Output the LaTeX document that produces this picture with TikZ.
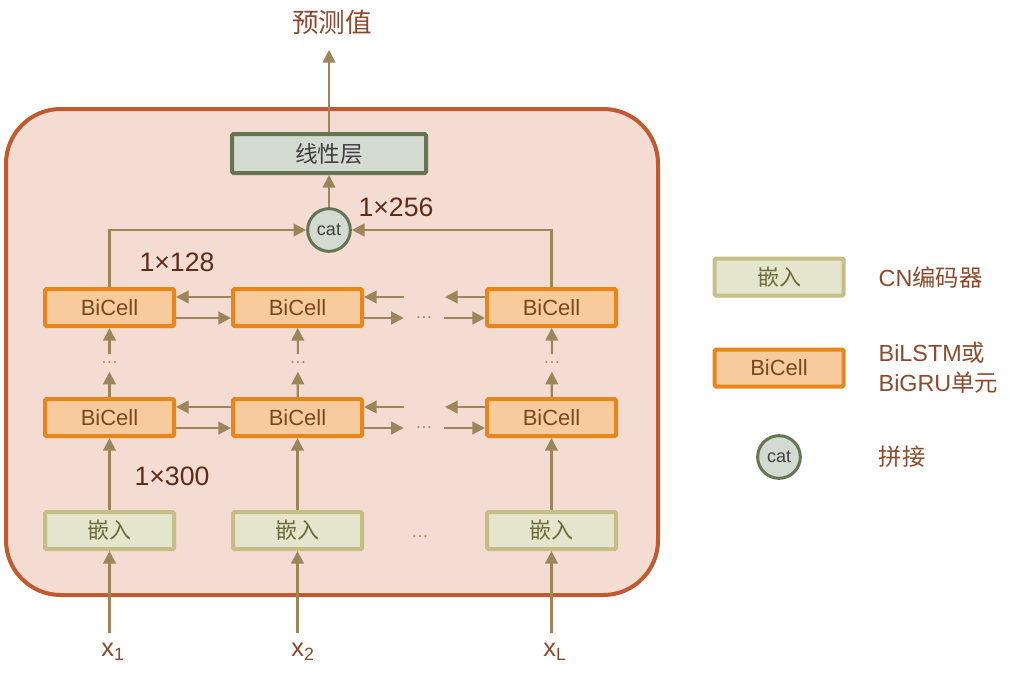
\documentclass[tikz,border=0pt]{standalone}
\usepackage{fontspec}
\setmainfont{Liberation Sans}
\newfontfamily\cjk{Noto Sans CJK SC}
\usepackage{tikz}
\usetikzlibrary{arrows.meta,positioning}
\definecolor{frameline}{RGB}{194,90,48}
\definecolor{framefill}{RGB}{245,220,211}
\definecolor{arrowcol}{RGB}{155,133,89}
\definecolor{linfill}{RGB}{211,218,207}
\definecolor{linline}{RGB}{101,117,83}
\definecolor{darktext}{RGB}{64,64,64}
\definecolor{cellfill}{RGB}{248,203,158}
\definecolor{cellline}{RGB}{232,134,26}
\definecolor{celltext}{RGB}{122,72,28}
\definecolor{embfill}{RGB}{229,228,204}
\definecolor{embline}{RGB}{196,191,132}
\definecolor{embtext}{RGB}{110,107,58}
\definecolor{dimtext}{RGB}{94,45,22}
\definecolor{labtext}{RGB}{138,74,45}

\begin{document}
\begin{tikzpicture}[x=0.75pt, y=0.75pt, node distance=82.5pt,
  conn/.style={draw=arrowcol, line width=1.6pt, -{Triangle[length=9.5pt, width=9.5pt]}},
  cell/.style={rectangle, draw=cellline, fill=cellfill, line width=3pt, rounded corners=1pt, minimum width=96.75pt, minimum height=27.75pt, text=celltext, font=\fontsize{16.5}{18}\selectfont},
  embed/.style={rectangle, draw=embline, fill=embfill, line width=3pt, rounded corners=1pt, minimum width=96.75pt, minimum height=27.75pt, text=embtext, font=\fontsize{16.5}{18}\cjk},
  linear/.style={rectangle, draw=linline, fill=linfill, line width=3pt, rounded corners=1pt, minimum width=145.5pt, minimum height=29.25pt, text=darktext, font=\fontsize{17}{19}\cjk},
  catnode/.style={circle, draw=linline, fill=linfill, line width=2.25pt, minimum size=32pt, inner sep=0pt, text=darktext, font=\fontsize{13.5}{15}\selectfont},
  dim/.style={text=dimtext, font=\fontsize{20}{22}\selectfont},
  dots/.style={text=arrowcol, inner sep=0pt, font=\fontsize{13}{13}\selectfont},
  xlab/.style={text=labtext, inner ysep=7.5pt, font=\fontsize{19}{21}\selectfont},
  legend/.style={anchor=west, text=labtext, align=left, font=\fontsize{17.5}{22.5}\selectfont}]
\useasboundingbox (0,0) rectangle (1010,-678);
\draw [draw=frameline, fill=framefill, line width=3pt, rounded corners=41pt] (6,-109) rectangle (658,-595);

\node [cell] (c11) at (109.5,-307.5) {BiCell};
\node [cell, node distance=141pt, right of=c11] (c12) {BiCell};
\node [cell, node distance=190.5pt, right of=c12] (c13) {BiCell};
\node [cell, below of=c11] (c21) {BiCell};
\node [cell, below of=c12] (c22) {BiCell};
\node [cell, below of=c13] (c23) {BiCell};
\node [embed, node distance=84.75pt, below of=c21] (e1) {嵌入};
\node [embed, node distance=84.75pt, below of=c22] (e2) {嵌入};
\node [embed, node distance=84.75pt, below of=c23] (e3) {嵌入};
\node [dots] (ed) at (420,-537) {…};

\node [linear] (lin) at (329,-153.5) {线性层};
\node [catnode] (cat) at (329,-230) {cat};
\node [text=labtext, font=\fontsize{20}{22}\cjk] (out) at (332,-22) {预测值};
\coordinate (outtip) at (329,-50);

\node [dim] (d256) at (396,-207) {1×256};
\node [dim] (d128) at (177,-262) {1×128};
\node [dim] (d300) at (172,-476) {1×300};

\node [xlab] (x1) at (113,-652) {x\textsubscript{1}};
\node [xlab] (x2) at (303,-652) {x\textsubscript{2}};
\node [xlab] (x3) at (555,-652) {x\textsubscript{L}};

\node [dots, minimum height=12.75pt] (v1) at (109.5,-363) {…};
\node [dots, minimum height=12.75pt] (v2) at (298,-363) {…};
\node [dots, minimum height=12.75pt] (v3) at (552,-363) {…};
\node [dots, minimum width=30pt] (h1) at (424,-318) {…};
\node [dots, minimum width=30pt] (h2) at (424,-428) {…};
\coordinate (t1a) at (404,-297);
\coordinate (t1b) at (445,-297);
\coordinate (t2a) at (404,-407);
\coordinate (t2b) at (445,-407);

\draw [conn] (lin) -- (outtip);
\draw [conn] (cat) -- (lin);
\draw [conn] (c11) |- (cat);
\draw [conn] (c13) |- (cat);

\foreach \r in {1,2} {
  \draw [conn] ([yshift=7.9pt]c\r2.west) -- ([yshift=7.9pt]c\r1.east);
  \draw [conn] ([yshift=-7.9pt]c\r1.east) -- ([yshift=-7.9pt]c\r2.west);
  \draw [conn] (t\r a) -- (c\r2.east |- t\r a);
  \draw [conn] (c\r3.west |- t\r b) -- (t\r b);
  \draw [conn] (c\r2.east |- h\r) -- (h\r.west);
  \draw [conn] (h\r.east) -- (c\r3.west |- h\r);
}
\foreach \c in {1,2,3} {
  \draw [conn] (c2\c) -- (v\c);
  \draw [conn] (v\c) -- (c1\c);
  \draw [conn] (e\c) -- (c2\c);
  \draw [conn] (e\c |- x\c.north) -- (e\c);
}

\node [embed] (lg1) at (779,-277) {嵌入};
\node [cell] (lg2) at (779,-368) {BiCell};
\node [catnode] (lg3) at (779,-457) {cat};
\node [legend] (lt1) at (874,-278) {CN{\cjk 编码器}};
\node [legend] (lt2) at (874,-368) {BiLSTM{\cjk 或}\\BiGRU{\cjk 单元}};
\node [legend] (lt3) at (874,-457) {\cjk 拼接};
\end{tikzpicture}
\end{document}
